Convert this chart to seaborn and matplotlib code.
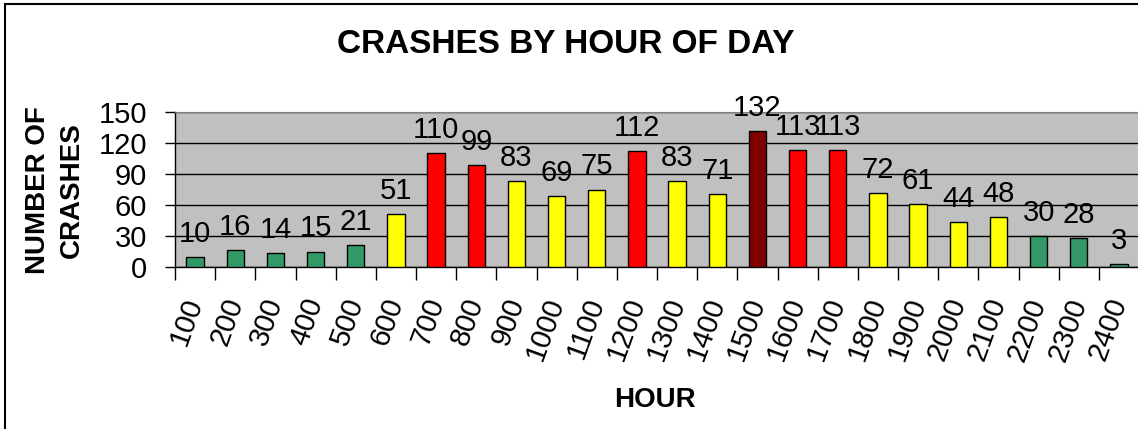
import numpy as np
import pandas as pd
import matplotlib.pyplot as plt
import seaborn as sns
from matplotlib.patches import Rectangle

# data
hours = ['100', '200', '300', '400', '500', '600', '700', '800', '900', '1000',
         '1100', '1200', '1300', '1400', '1500', '1600', '1700', '1800', '1900',
         '2000', '2100', '2200', '2300', '2400']
crashes = [10, 16, 14, 15, 21, 51, 110, 99, 83, 69, 75, 112, 83, 71, 132,
           113, 113, 72, 61, 44, 48, 30, 28, 3]


def level_color(v):
    # colour bands used in the original sheet
    if v <= 30:
        return '#339966'
    if v < 90:
        return '#FFFF00'
    if v < 120:
        return '#FF0000'
    return '#800000'


df = pd.DataFrame({'hour': hours, 'crashes': crashes})
colors = [level_color(v) for v in crashes]

sns.set_style('white')
plt.rcParams['font.family'] = ['Liberation Sans', 'DejaVu Sans']
plt.rcParams['text.color'] = 'black'
plt.rcParams['xtick.color'] = 'black'
plt.rcParams['ytick.color'] = 'black'
plt.rcParams['xtick.labelcolor'] = 'black'
plt.rcParams['ytick.labelcolor'] = 'black'

fig = plt.figure(figsize=(11.38, 4.29), dpi=100)
ax = fig.add_axes([175 / 1138, 1 - 267 / 429, 964 / 1138, 155 / 429])
ax.set_facecolor('#C0C0C0')

sns.barplot(data=df, x='hour', y='crashes', hue='hour', palette=colors,
            legend=False, width=0.43, edgecolor='black', linewidth=1,
            saturation=1, ax=ax, zorder=3)

# value labels above bars
for i, v in enumerate(crashes):
    ax.annotate(str(v), (i, v), xytext=(0, 10.8), textcoords='offset points',
                ha='center', va='baseline', fontsize=21, color='black',
                zorder=4)

ax.set_ylim(0, 150)
ax.set_yticks(np.arange(0, 151, 30))
ax.yaxis.grid(True, color='black', linewidth=1, zorder=0)
ax.set_axisbelow(True)
ax.tick_params(axis='y', labelsize=21, length=7, width=1, color='black',
               pad=13, left=True)

ax.set_xlim(-0.5, 23.5)
ax.set_xticks(range(len(hours)))
ax.set_xticklabels(hours, rotation=70, ha='right', va='center',
                   rotation_mode='anchor')
ax.set_xticks(np.arange(-0.5, 23.6, 1), minor=True)
ax.tick_params(axis='x', which='major', labelsize=21, length=0, pad=23)
ax.tick_params(axis='x', which='minor', length=9, width=1, color='black',
               bottom=True)

for side in ['top', 'right']:
    ax.spines[side].set_color('#808080')
for side in ['left', 'bottom']:
    ax.spines[side].set_color('black')
    ax.spines[side].set_linewidth(1)

ax.set_xlabel('')
ax.set_ylabel('')

fig.text(0.497, 0.897, 'CRASHES BY HOUR OF DAY', ha='center', va='center',
         fontsize=24, fontweight='bold')
fig.text(0.048, 0.557, 'NUMBER OF\nCRASHES', ha='center', va='center',
         rotation=90, multialignment='center', fontsize=20,
         fontweight='bold', linespacing=1.4)
fig.text(655 / 1138, 1 - 400 / 429, 'HOUR', ha='center', va='center',
         fontsize=20, fontweight='bold')

# outer chart border
fig.add_artist(Rectangle((5 / 1138, -0.1), 2, 1.1 - 4 / 429,
                         transform=fig.transFigure, fill=False,
                         edgecolor='black', linewidth=1.5))

fig.savefig('out.png', dpi=100)
